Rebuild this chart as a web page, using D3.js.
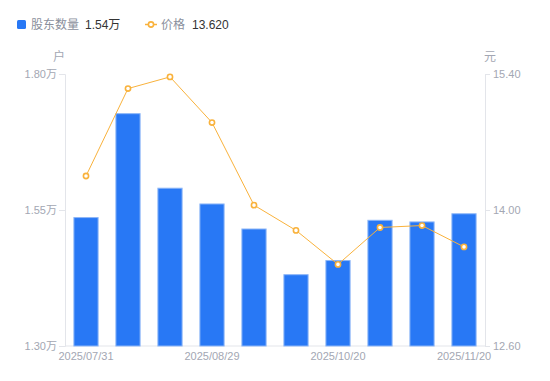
<!DOCTYPE html>
<html><head><meta charset="utf-8">
<script src="https://cdn.jsdelivr.net/npm/d3@7"></script>
<style>body{margin:0;background:#fff;}svg{display:block;font-family:"Liberation Sans","Noto Sans CJK SC",sans-serif;}</style>
</head><body><svg id="c" width="550" height="381"></svg>
<script>
const dates = ["2025/07/31","2025/08/10","2025/08/20","2025/08/29","2025/09/10","2025/09/19","2025/10/20","2025/10/31","2025/11/10","2025/11/20"];
const holders = [1.537, 1.728, 1.591, 1.562, 1.516, 1.432, 1.458, 1.532, 1.529, 1.544];
const prices = [14.35, 15.25, 15.37, 14.90, 14.05, 13.79, 13.44, 13.82, 13.84, 13.62];
const leftTicks = [1.30, 1.55, 1.80];
const rightTicks = [12.60, 14.00, 15.40];

const svg = d3.select("#c");
const L = 65, R = 485, T = 74, B = 346;
const barColor = "#2878F5", lineColor = "#F9B23C", axisColor = "#E3E5EA", tickText = "#A3A7B3";
const numFont = "'Liberation Sans','Noto Sans CJK SC',sans-serif";

const x = d3.scaleBand().domain(dates).range([L, R]).paddingInner(0.4).paddingOuter(0.2);
const yL = d3.scaleLinear().domain([1.30, 1.80]).range([B, T]);
const yR = d3.scaleLinear().domain([12.60, 15.40]).range([B, T]);

// axes
const gl = svg.append("g").attr("transform", `translate(${L},0)`)
  .call(d3.axisLeft(yL).tickValues(leftTicks).tickSize(6).tickPadding(2).tickFormat(d => d.toFixed(2) + "万"));
const gr = svg.append("g").attr("transform", `translate(${R},0)`)
  .call(d3.axisRight(yR).tickValues(rightTicks).tickSize(5).tickPadding(3).tickFormat(d => d.toFixed(2)));
const gb = svg.append("g").attr("transform", `translate(0,${B})`)
  .call(d3.axisBottom(x).tickSize(0).tickPadding(6).tickFormat((d, i) => i % 3 === 0 ? d : ""));
[gl, gr, gb].forEach(g => {
  g.select(".domain").attr("stroke", axisColor);
  g.selectAll(".tick line").attr("stroke", axisColor);
  g.selectAll(".tick text").attr("fill", tickText).style("font-size", "11px").style("font-family", numFont);
});
gb.select(".domain").attr("d", `M${L},0H${R}`);

// unit labels
svg.append("text").attr("x", 59).attr("y", 61).attr("text-anchor", "middle").attr("fill", tickText).style("font-size", "12px").style("font-family", "'Noto Sans CJK SC',sans-serif").text("户");
svg.append("text").attr("x", 490).attr("y", 61).attr("text-anchor", "middle").attr("fill", tickText).style("font-size", "12px").style("font-family", "'Noto Sans CJK SC',sans-serif").text("元");

// bars
svg.append("g").selectAll("rect").data(holders).join("rect")
  .attr("x", (d, i) => x(dates[i]) + 0.5)
  .attr("y", d => yL(d) + 0.5)
  .attr("width", x.bandwidth() - 1)
  .attr("height", d => B - yL(d) - 0.5)
  .attr("fill", barColor)
  .attr("stroke", "#8DB6F7").attr("stroke-width", 1);

// line
const line = d3.line().x((d, i) => x(dates[i]) + x.bandwidth() / 2).y(d => yR(d));
svg.append("path").datum(prices).attr("d", line).attr("fill", "none").attr("stroke", lineColor).attr("stroke-width", 1);
svg.append("g").selectAll("circle").data(prices).join("circle")
  .attr("cx", (d, i) => x(dates[i]) + x.bandwidth() / 2)
  .attr("cy", d => yR(d))
  .attr("r", 2.6)
  .attr("fill", "#fff")
  .attr("stroke", lineColor).attr("stroke-width", 1.6);

// legend
const lg = svg.append("g");
lg.append("rect").attr("x", 17).attr("y", 20).attr("width", 9).attr("height", 9).attr("rx", 1.5).attr("fill", barColor);
lg.append("text").attr("x", 31).attr("y", 29).attr("fill", "#8A8F9C").style("font-size", "12px").style("font-family", "'Noto Sans CJK SC',sans-serif").text("股东数量");
lg.append("text").attr("x", 85).attr("y", 29).attr("fill", "#333").style("font-size", "12px").style("font-family", numFont).text(d3.format(".2f")(holders[holders.length - 1]) + "万");
lg.append("line").attr("x1", 145).attr("x2", 157).attr("y1", 24.5).attr("y2", 24.5).attr("stroke", lineColor).attr("stroke-width", 1.5);
lg.append("circle").attr("cx", 151).attr("cy", 24.5).attr("r", 2.6).attr("fill", "#fff").attr("stroke", lineColor).attr("stroke-width", 1.6);
lg.append("text").attr("x", 161).attr("y", 29).attr("fill", "#8A8F9C").style("font-size", "12px").style("font-family", "'Noto Sans CJK SC',sans-serif").text("价格");
lg.append("text").attr("x", 192).attr("y", 29).attr("fill", "#333").style("font-size", "12px").style("font-family", numFont).text(d3.format(".3f")(prices[prices.length - 1]));
</script></body></html>
